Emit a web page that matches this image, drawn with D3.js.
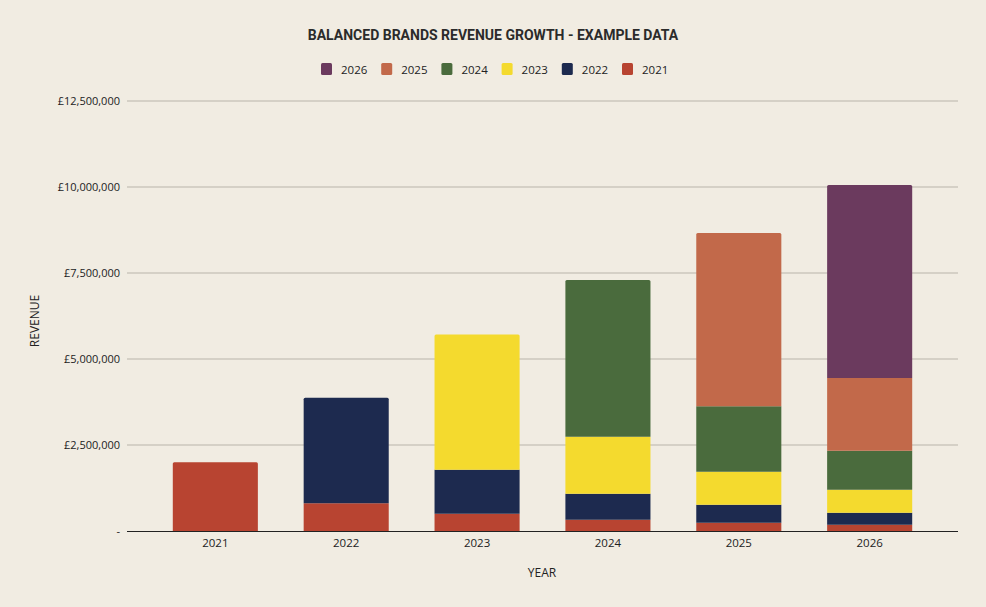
<!DOCTYPE html>
<html><head><meta charset="utf-8">
<script src="https://cdn.jsdelivr.net/npm/d3@7"></script>
<style>
html,body{margin:0;padding:0;background:#f1ece2;}
svg{display:block;font-family:"Open Sans","Noto Sans",sans-serif;}
</style></head>
<body><svg id="c" width="986" height="607"></svg>
<script>
const years = ["2021","2022","2023","2024","2025","2026"];
const seriesNames = ["2021","2022","2023","2024","2025","2026"];
const colors = ["#b84431","#1d2a4f","#f4da2e","#4a6b3d","#c2694a","#6b3a5e"];
// contribution of each cohort (series) to each year's revenue, in £
const s2021 = [2000000, 810000, 500000, 330000, 240000, 180000];
const s2022 = [0, 3060000, 1280000, 750000, 520000, 350000];
const s2023 = [0, 0, 3930000, 1660000, 960000, 670000];
const s2024 = [0, 0, 0, 4560000, 1910000, 1130000];
const s2025 = [0, 0, 0, 0, 5030000, 2120000];
const s2026 = [0, 0, 0, 0, 0, 5610000];
const yTicks = [0, 2500000, 5000000, 7500000, 10000000, 12500000];
const legendOrder = ["2026","2025","2024","2023","2022","2021"];

const seriesVals = [s2021, s2022, s2023, s2024, s2025, s2026];
const rows = years.map((y, i) => {
  const r = {year: y};
  seriesNames.forEach((s, k) => r[s] = seriesVals[k][i]);
  return r;
});
const stack = d3.stack().keys(seriesNames)(rows);

const svg = d3.select("#c");
const x = d3.scaleBand().domain(years).range([127, 958]).paddingInner(0.35).paddingOuter(0.35);
const y = d3.scaleLinear().domain([0, 12500000]).range([531, 101]);
const color = d3.scaleOrdinal().domain(seriesNames).range(colors);

// gridlines
svg.append("g").selectAll("line").data(yTicks.filter(d => d > 0)).join("line")
  .attr("x1", 127).attr("x2", 958)
  .attr("y1", d => y(d)).attr("y2", d => y(d))
  .attr("stroke", "#b9b4aa").attr("stroke-width", 1);

// y axis labels
const fmt = d => d === 0 ? "-" : "£" + d3.format(",")(d);
const yAxis = svg.append("g").attr("transform", "translate(127,0)")
  .call(d3.axisLeft(y).tickValues(yTicks).tickFormat(fmt).tickSize(0).tickPadding(7));
yAxis.select(".domain").remove();
yAxis.selectAll("text").attr("font-size", 11).attr("fill", "#222")
  .attr("font-family", "'Open Sans',sans-serif");

// bars
const topIdx = years.map((yr, i) => {
  let t = -1; seriesNames.forEach((s, k) => { if (seriesVals[k][i] > 0) t = k; }); return t;
});
stack.forEach((layer, k) => {
  svg.append("g").attr("fill", color(layer.key)).selectAll("path").data(layer).join("path")
    .attr("d", (d, i) => {
      const x0 = x(d.data.year), w = x.bandwidth();
      const yt = y(d[1]), yb = y(d[0]);
      if (d[1] - d[0] <= 0) return "";
      const r = (topIdx[i] === k) ? 1.5 : 0;
      return `M${x0},${yb}V${yt + r}Q${x0},${yt} ${x0 + r},${yt}H${x0 + w - r}Q${x0 + w},${yt} ${x0 + w},${yt + r}V${yb}Z`;
    });
});

// x axis
const xAxis = svg.append("g").attr("transform", "translate(0,531)")
  .call(d3.axisBottom(x).tickSize(0).tickPadding(8));
xAxis.select(".domain").attr("d", "M127,0.5H958").attr("stroke", "#222").attr("stroke-width", 1.2);
xAxis.selectAll("text").attr("font-size", 11.5).attr("fill", "#222")
  .attr("font-family", "'Open Sans',sans-serif");

// axis titles
svg.append("text").attr("x", 542).attr("y", 577).attr("text-anchor", "middle")
  .attr("font-size", 12).attr("fill", "#222").text("YEAR");
svg.append("text").attr("transform", "translate(39,321) rotate(-90)").attr("text-anchor", "middle")
  .attr("font-size", 12).attr("fill", "#222").text("REVENUE");

// title
svg.append("text").attr("x", 493).attr("y", 40).attr("text-anchor", "middle")
  .attr("font-family", "Roboto,sans-serif").attr("font-weight", "bold")
  .attr("font-size", 14).attr("fill", "#2b2b2b").text("BALANCED BRANDS REVENUE GROWTH - EXAMPLE DATA");

// legend
const lg = svg.append("g").selectAll("g").data(legendOrder).join("g")
  .attr("transform", (d, i) => `translate(${321 + i * 60.2},63)`);
lg.append("rect").attr("width", 11).attr("height", 12).attr("rx", 1.5).attr("fill", d => color(d));
lg.append("text").attr("x", 20).attr("y", 10.5).attr("font-size", 11.5).attr("fill", "#222")
  .attr("font-family", "'Open Sans',sans-serif").text(d => d);
</script></body></html>
